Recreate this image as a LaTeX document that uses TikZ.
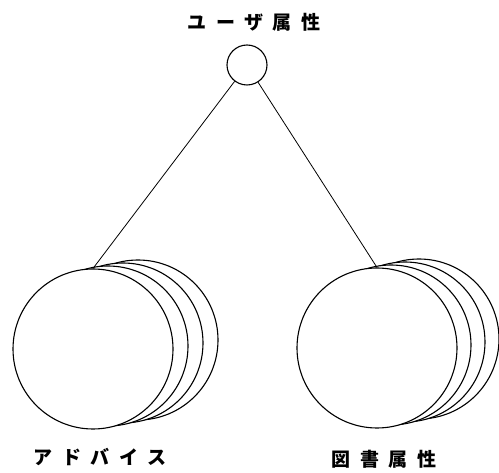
\documentclass[tikz,border=0pt]{standalone}
\usepackage{fontspec}
\newfontfamily\jpfont[LetterSpace=50]{Noto Sans CJK JP}
\begin{document}
\begin{tikzpicture}[x=1pt,y=-1pt,
 disk/.style={circle,draw,line width=1.1pt,fill=white,minimum size=160pt,inner sep=0pt},
 attr/.style={font=\jpfont\bfseries\fontsize{19}{19}\selectfont,inner sep=0pt}]
 \useasboundingbox (0,0) rectangle (499,473);
 % user attribute
 \node[attr] (usertitle) at (254,22) {ユーザ属性};
 \node[circle,draw,line width=1.1pt,minimum size=40pt,inner sep=0pt] (user) at (247,65) {};
 % advice stack
 \foreach \i in {3,2,1}
  \node[disk] (adv\i) at ({93+15*\i},{349-3*\i}) {};
 \node[disk] (adv) at (93,349) {};
 \node[attr] (advlabel) at (100,457) {アドバイス};
 % book stack
 \foreach \i in {3,2,1}
  \node[disk] (book\i) at ({377+14*\i},{348-3*\i}) {};
 \node[disk] (book) at (377,348) {};
 \node[attr] (booklabel) at (384,459) {図書属性};
 % links
 \draw[line width=0.8pt] (user) -- (adv.north);
 \draw[line width=0.8pt] (user) -- (book.north);
\end{tikzpicture}
\end{document}
